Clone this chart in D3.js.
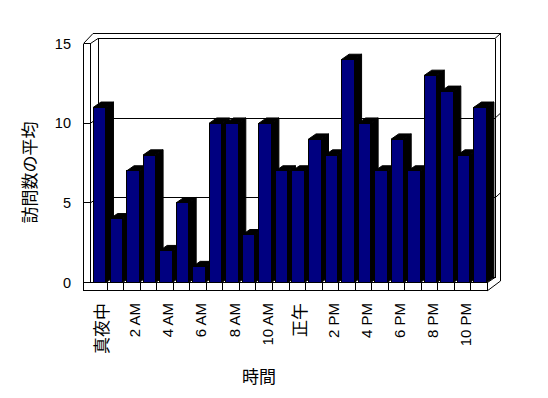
<!DOCTYPE html>
<html>
<head>
<meta charset="utf-8">
<script src="https://cdn.jsdelivr.net/npm/d3@7"></script>
<style>
  html, body { margin: 0; padding: 0; background: #fff; }
  svg { display: block; }
</style>
</head>
<body>
<svg id="chart" width="548" height="398"></svg>
<script>
// ---- data ----
const categories = ["0","1","2","3","4","5","6","7","8","9","10","11","12","13","14","15","16","17","18","19","20","21","22","23"];
const values = [11, 4, 7, 8, 2, 5, 1, 10, 10, 3, 10, 7, 7, 9, 8, 14, 10, 7, 9, 7, 13, 12, 8, 11];
const tickLabels = ["真夜中", "2 AM", "4 AM", "6 AM", "8 AM", "10 AM", "正午", "2 PM", "4 PM", "6 PM", "8 PM", "10 PM"];
const yTicks = [0, 5, 10, 15];
const yTitle = "訪問数の平均";
const xTitle = "時間";

// ---- geometry ----
const svg = d3.select("#chart");
const frontLeft = 90.5, frontRight = 487.5;
const outerLeft = 83.5;
const backLeft = 98, backRight = 495;
const outerTop = 33.5, outerRight = 500.5, outerTopLeft = 93;
const floorBottom = 290.7;
const depth = { dx: 7.5, dy: -5.2 };

const x = d3.scaleBand().domain(categories).range([frontLeft, frontRight]).padding(0);
const yFront = d3.scaleLinear().domain([0, 15]).range([282.5, 43.5]);
const yBack = d3.scaleLinear().domain([0, 15]).range([277.5, 38.5]);

const LATIN = "'Liberation Sans', Arial, sans-serif";
const CJK = "'Noto Sans CJK JP', sans-serif";

const g = svg.append("g").attr("fill", "none").attr("stroke", "#000").attr("stroke-width", 1)
  .attr("shape-rendering", "crispEdges");

function line(x1, y1, x2, y2, sr) {
  g.append("line").attr("x1", x1).attr("y1", y1).attr("x2", x2).attr("y2", y2)
    .attr("shape-rendering", sr || "crispEdges");
}

// back wall and walls
line(outerTopLeft, outerTop, outerRight, outerTop);
line(backLeft, yBack(15), backRight, yBack(15));
line(outerLeft, yFront(15), outerTopLeft, outerTop, "auto");
line(frontLeft, yFront(15), backLeft, yBack(15), "auto");
line(outerLeft, yFront(15), frontLeft, yFront(15));
line(backRight, yBack(15), outerRight, outerTop, "auto");
line(outerLeft, yFront(15), outerLeft, floorBottom);
line(frontLeft, yFront(15), frontLeft, yFront(0));
line(backLeft, yBack(15), backLeft, yBack(0));
line(backRight, yBack(15), backRight, yBack(0));
line(outerRight, outerTop, outerRight, 281);

// gridlines (back wall + left wall) and ticks
yTicks.filter(v => v > 0 && v < 15).forEach(v => {
  line(backLeft, yBack(v), backRight, yBack(v));
  line(frontLeft, yFront(v), backLeft, yBack(v), "auto");
  line(backRight, yBack(v), outerRight, yBack(v) - 5, "auto");
});
yTicks.forEach(v => line(outerLeft, yFront(v), frontLeft, yFront(v)));

// floor
line(backLeft, yBack(0), backRight, yBack(0));
g.append("rect").attr("x", outerLeft).attr("y", yFront(0))
  .attr("width", frontRight - outerLeft).attr("height", floorBottom - yFront(0)).attr("fill", "#fff");
categories.slice(1).forEach(c => line(x(c), yFront(0), x(c), floorBottom));
line(frontRight, yFront(0), backRight, yBack(0), "auto");
line(frontRight, floorBottom, outerRight, 281, "auto");

// bars
const bw = x.bandwidth();
const barOff = bw * 0.18, barW = bw * 0.755;
const bars = svg.append("g");
categories.forEach((c, i) => {
  const v = values[i];
  const xl = x(c) + barOff, xr = xl + barW;
  const yt = yFront(v), yb = yFront(0);
  // side
  bars.append("polygon")
    .attr("points", [[xr, yt], [xr + depth.dx, yt + depth.dy], [xr + depth.dx, yb + depth.dy], [xr, yb]].join(" "))
    .attr("fill", "#000").attr("stroke", "#000").attr("stroke-width", 1);
  // top
  bars.append("polygon")
    .attr("points", [[xl, yt], [xl + depth.dx, yt + depth.dy], [xr + depth.dx, yt + depth.dy], [xr, yt]].join(" "))
    .attr("fill", "#000").attr("stroke", "#000").attr("stroke-width", 1);
  // front
  bars.append("rect")
    .attr("x", xl).attr("y", yt).attr("width", barW).attr("height", yb - yt)
    .attr("fill", "#000080").attr("stroke", "#000").attr("stroke-width", 1)
    .attr("shape-rendering", "crispEdges");
});

// y tick labels
svg.append("g").selectAll("text").data(yTicks).join("text")
  .attr("x", 71).attr("y", d => yFront(d)).attr("dy", "0.36em")
  .attr("text-anchor", "end").attr("font-family", LATIN).attr("font-size", 14.5)
  .attr("fill", "#000").text(d => d);

// x tick labels (every 2 hours)
svg.append("g").selectAll("text").data(tickLabels).join("text")
  .attr("transform", (d, i) => {
    const c = categories[i * 2];
    return `translate(${x(c) + bw / 2 + 3},303) rotate(-90)`;
  })
  .attr("dy", "0.36em").attr("text-anchor", "end")
  .attr("font-family", d => /[A-Z]/.test(d) ? LATIN : CJK)
  .attr("font-size", d => /[A-Z]/.test(d) ? 15 : 17)
  .attr("fill", "#000").text(d => d);

// axis titles
svg.append("text").attr("transform", "translate(30,172.5) rotate(-90)")
  .attr("text-anchor", "middle").attr("dy", "0.36em")
  .attr("font-family", CJK).attr("font-size", 17).attr("fill", "#000").text(yTitle);
svg.append("text").attr("x", 259).attr("y", 376.7).attr("dy", "0.36em")
  .attr("text-anchor", "middle").attr("font-family", CJK).attr("font-size", 17)
  .attr("fill", "#000").text(xTitle);
</script>
</body>
</html>
